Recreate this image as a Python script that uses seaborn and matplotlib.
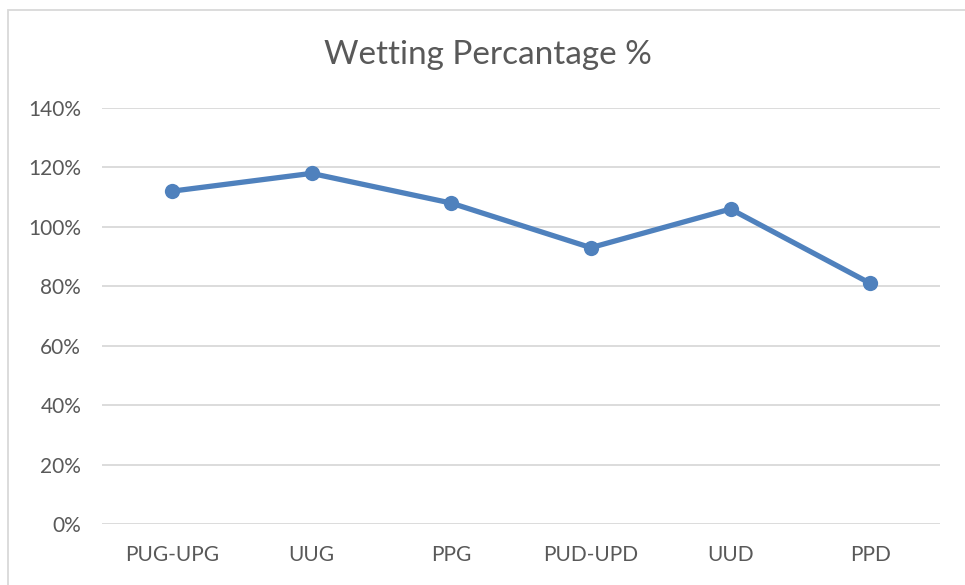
import pandas as pd
import seaborn as sns
import matplotlib.pyplot as plt
from matplotlib.patches import Rectangle
from matplotlib.ticker import PercentFormatter

categories = ["PUG-UPG", "UUG", "PPG", "PUD-UPD", "UUD", "PPD"]
wetting = [1.12, 1.18, 1.08, 0.93, 1.06, 0.81]
y_ticks = [0, 0.2, 0.4, 0.6, 0.8, 1.0, 1.2, 1.4]

df = pd.DataFrame({"sample": categories, "wetting": wetting})

sns.set_style("white")
plt.rcParams['font.family'] = ['Lato', 'DejaVu Sans']

fig = plt.figure(figsize=(9.65, 5.85), dpi=100)
ax = fig.add_axes([102 / 965, 1 - 524 / 585, (940 - 102) / 965, (524 - 108) / 585])

sns.lineplot(data=df, x="sample", y="wetting", sort=False, ax=ax,
             color="#4F81BD", linewidth=3.8, marker="o", markersize=11,
             markeredgewidth=0)

ax.set_xlim(-0.5, len(categories) - 0.5)
ax.set_ylim(0, 1.4)
ax.set_yticks(y_ticks)
ax.yaxis.set_major_formatter(PercentFormatter(1.0, decimals=0))
ax.grid(axis="y", color="#D9D9D9", linewidth=1.3)
ax.set_axisbelow(True)
for s in ax.spines.values():
    s.set_visible(False)
ax.tick_params(axis="both", length=0, labelsize=15, labelcolor="#595959")
ax.tick_params(axis="y", pad=15)
ax.tick_params(axis="x", pad=15)
ax.set_xlabel("")
ax.set_ylabel("")

fig.text(488 / 965, 1 - 55 / 585, "Wetting Percantage %",
         ha="center", va="center", fontsize=24, color="#595959")

# chart border (cut off at right and bottom)
fig.patches.append(Rectangle((8 / 965, -0.1), 1.1, 1 - 10 / 585 + 0.1,
                             transform=fig.transFigure, fill=False,
                             edgecolor="#D9D9D9", linewidth=1.3))

fig.savefig("out.png", dpi=100, facecolor="white")
